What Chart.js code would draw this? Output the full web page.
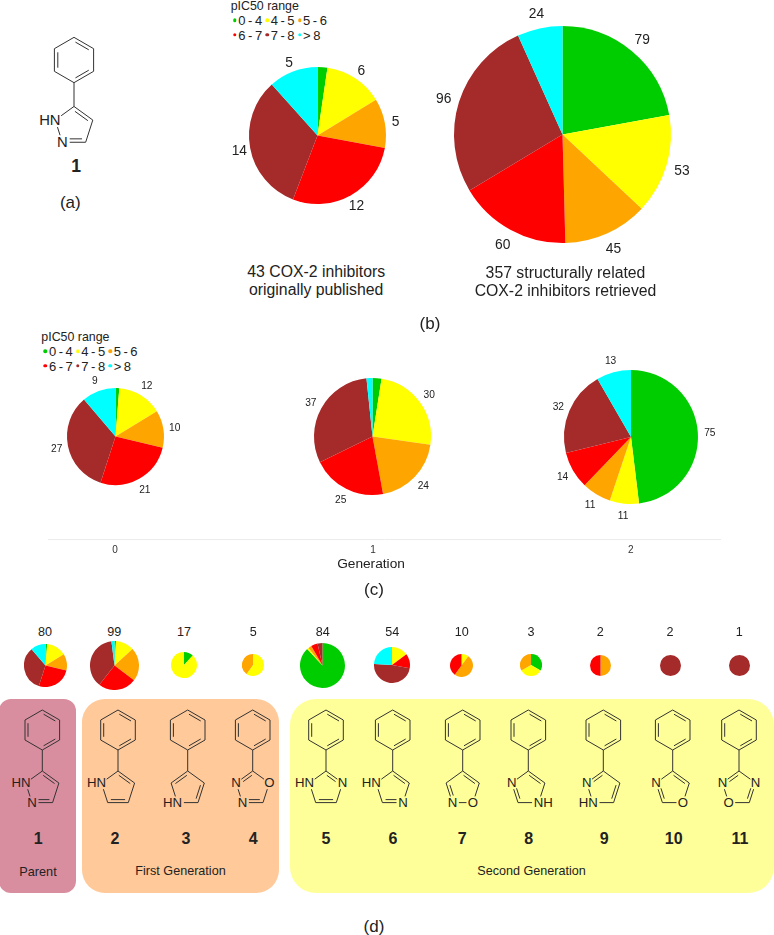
<!DOCTYPE html>
<html lang="en">
    <head>
        <meta charset="UTF-8" />
        <title>COX-2 inhibitors by pIC50 range</title>
        <script src="https://cdn.jsdelivr.net/npm/chart.js@4"></script>
        <style>
            html, body { margin: 0; padding: 0; background: #fff; }
            #page { position: relative; width: 774px; height: 935px; overflow: hidden;
                    font-family: "Liberation Sans", Arial, sans-serif; color: #222; }
            #page canvas { position: absolute; }
            #page svg { position: absolute; left: 0; top: 0; }
            .box { position: absolute; }
            .txt { position: absolute; white-space: nowrap; transform: translate(-50%, -50%); line-height: 1; }
            .dot { position: absolute; width: 3.5px; height: 3.5px; border-radius: 50%; transform: translate(-50%, -50%); }
        </style>
    </head>
    <body>
        <div id="page"></div>
        <script>
            // pIC50 bins, same order on every pie
            const categories = ["0 - 4", "4 - 5", "5 - 6", "6 - 7", "7 - 8", "> 8"];
            const colours = ["#00CD00", "#FFFF00", "#FFA500", "#FF0000", "#A52A2A", "#00FFFF"];

            // panel (b)
            const published = [1, 6, 5, 12, 14, 5];
            const retrieved = [79, 53, 45, 60, 96, 24];

            // panel (c)
            const generationTicks = [0, 1, 2];
            const generation0 = [1, 12, 10, 21, 27, 9];
            const generation1 = [3, 30, 24, 25, 37, 2];
            const generation2 = [75, 11, 11, 14, 32, 13];

            // panel (d), one per scaffold
            const scaffold1 = [1, 12, 10, 21, 27, 9];
            const scaffold2 = [1, 12, 22, 25, 37, 2];
            const scaffold3 = [2, 15, 0, 0, 0, 0];
            const scaffold4 = [0, 3, 2, 0, 0, 0];
            const scaffold5 = [74, 1, 2, 4, 3, 0];
            const scaffold6 = [0, 8, 0, 7, 26, 13];
            const scaffold7 = [0, 1, 5, 4, 0, 0];
            const scaffold8 = [1, 1, 1, 0, 0, 0];
            const scaffold9 = [0, 0, 1, 1, 0, 0];
            const scaffold10 = [0, 0, 0, 0, 2, 0];
            const scaffold11 = [0, 0, 0, 0, 1, 0];
            const scaffoldTotals = ["80", "99", "17", "5", "84", "54", "10", "3", "2", "2", "1"];

            const page = document.getElementById("page");

            function addText(str, x, y, size, extra)  {
                const el = document.createElement("div");
                el.className = "txt";
                el.textContent = str;
                el.style.left = x + "px";
                el.style.top = y + "px";
                el.style.fontSize = size + "px";
                Object.assign(el.style, extra || {});
                page.appendChild(el);
                return el;
            }

            function addBox(x, y, w, h, rad, color)  {
                const el = document.createElement("div");
                el.className = "box";
                el.style.cssText = `left:${x}px;top:${y}px;width:${w}px;height:${h}px;border-radius:${rad}px;background:${color}`;
                page.appendChild(el);
            }

            // value labels sit just outside the arc at its mid angle
            const sliceLabels = {
                id: "sliceLabels",
                afterDatasetsDraw(chart, args, opts)  {
                    if(!opts.size) return;
                    const ctx = chart.ctx;
                    const values = chart.data.datasets[0].data;
                    ctx.save();
                    ctx.font = opts.size + 'px "Liberation Sans"';
                    ctx.fillStyle = "#222";
                    ctx.textAlign = "center";
                    ctx.textBaseline = "middle";
                    chart.getDatasetMeta(0).data.forEach((arc, i) =>  {
                        if(values[i] < opts.min) return;
                        const mid = (arc.startAngle + arc.endAngle) / 2;
                        const dist = arc.outerRadius + opts.gap;
                        ctx.fillText(values[i], arc.x + Math.cos(mid) * dist, arc.y + Math.sin(mid) * dist + opts.dy);
                    });
                    ctx.restore();
                }
            };

            function drawPie(values, cx, cy, r, labels)  {
                const pad = labels ? 30 : 0;
                const size = Math.round(2 * r) + 2 * pad;
                const canvas = document.createElement("canvas");
                canvas.style.left = Math.round(cx - size / 2) + "px";
                canvas.style.top = Math.round(cy - size / 2) + "px";
                canvas.width = size;
                canvas.height = size;
                page.appendChild(canvas);
                new Chart(canvas, {
                    type: "pie",
                    data: {
                        labels: categories,
                        datasets: [{ data: values, backgroundColor: colours, borderWidth: 0 }]
                    },
                    plugins: [sliceLabels],
                    options: {
                        responsive: false,
                        animation: false,
                        layout: { padding: pad },
                        plugins: {
                            legend: { display: false },
                            tooltip: { enabled: false },
                            sliceLabels: labels || {}
                        }
                    }
                });
            }

            function drawLegend(x, y)  {
                addText("pIC50 range", x, y, 12.4, { transform: "translate(0,-50%)" });
                const xs = [4, 36.4, 68.8];
                categories.forEach((name, i) =>  {
                    const col = i % 3;
                    const row = y + (i < 3 ? 14.5 : 29);
                    const dot = document.createElement("div");
                    dot.className = "dot";
                    dot.style.left = (x + xs[col]) + "px";
                    dot.style.top = row + "px";
                    dot.style.background = colours[i];
                    page.appendChild(dot);
                    addText(name, x + xs[col] + 3.6, row, 13, { transform: "translate(0,-50%)", wordSpacing: "-1.1px" });
                });
            }

            // backgrounds first so the molecules and pies land on top
            addBox(-1, 698.7, 77.3, 194, 12, "#D98E9F");
            addBox(82, 698.7, 197.3, 194, 23, "#FFC999");
            addBox(289.7, 698.7, 484.6, 194, 26, "#FFFF99");

            // molecules, local coordinates: origin is the phenyl centre
            const svgNS = "http://www.w3.org/2000/svg";
            const svg = document.createElementNS(svgNS, "svg");
            svg.setAttribute("width", 774);
            svg.setAttribute("height", 935);
            page.appendChild(svg);

            const hexPts = [[0, -20], [17.3, -10], [17.3, 10], [0, 20], [-17.3, 10], [-17.3, -10]];
            const hexDoubles = [[0, 1], [2, 3], [4, 5]];
            const ringPts = [[0, 41], [16.6, 53], [10.3, 72.6], [-10.3, 72.6], [-16.6, 53]];

            // ring atoms by vertex index, then which ring bonds are double
            const molecules = [
                { x: 42.3, atoms: { 4: "HN", 3: "N" }, doubles: [[0, 1], [2, 3]] },
                { x: 118, atoms: { 4: "HN" }, doubles: [[0, 1], [2, 3]] },
                { x: 187.7, atoms: { 3: "HN" }, doubles: [[0, 4], [1, 2]] },
                { x: 252.7, atoms: { 1: "O", 3: "N", 4: "N" }, doubles: [[0, 4], [2, 3]] },
                { x: 326, atoms: { 1: "N", 4: "HN" }, doubles: [[0, 1], [2, 3]] },
                { x: 392.7, atoms: { 2: "N", 4: "HN" }, doubles: [[0, 1], [2, 3]] },
                { x: 462.7, atoms: { 2: "O", 3: "N" }, doubles: [[0, 1], [3, 4]] },
                { x: 528.3, atoms: { 2: "NH", 4: "N" }, doubles: [[0, 1], [3, 4]] },
                { x: 603.3, atoms: { 3: "HN", 4: "N" }, doubles: [[0, 4], [1, 2]] },
                { x: 672.7, atoms: { 2: "O", 4: "N" }, doubles: [[0, 1], [3, 4]] },
                { x: 739, atoms: { 1: "N", 3: "O", 4: "N" }, doubles: [[0, 4], [1, 2]] }
            ];

            function line(x1, y1, x2, y2, w)  {
                const el = document.createElementNS(svgNS, "line");
                el.setAttribute("x1", x1);
                el.setAttribute("y1", y1);
                el.setAttribute("x2", x2);
                el.setAttribute("y2", y2);
                el.setAttribute("stroke", "#333");
                el.setAttribute("stroke-width", w);
                svg.appendChild(el);
            }

            function drawRing(pts, doubles, atoms, ox, oy, k, w)  {
                const mx = pts.reduce((s, p) => s + p[0], 0) / pts.length;
                const my = pts.reduce((s, p) => s + p[1], 0) / pts.length;
                pts.forEach((p, i) =>  {
                    const j = (i + 1) % pts.length;
                    const q = pts[j];
                    const len = Math.hypot(q[0] - p[0], q[1] - p[1]);
                    const ux = (q[0] - p[0]) / len, uy = (q[1] - p[1]) / len;
                    const a = atoms[i] ? 6.5 : 0, b = atoms[j] ? 6.5 : 0;
                    line(ox + k * (p[0] + ux * a), oy + k * (p[1] + uy * a),
                         ox + k * (q[0] - ux * b), oy + k * (q[1] - uy * b), w);
                    const isDouble = doubles.some(d => (d[0] === i && d[1] === j) || (d[0] === j && d[1] === i));
                    if(isDouble)  {
                        let nx = -uy, ny = ux;
                        if(nx * (mx - p[0]) + ny * (my - p[1]) < 0)  { nx = -nx; ny = -ny; }
                        const a2 = Math.max(a, 3.2), b2 = Math.max(b, 3.2);
                        line(ox + k * (p[0] + ux * a2 + nx * 3), oy + k * (p[1] + uy * a2 + ny * 3),
                             ox + k * (q[0] - ux * b2 + nx * 3), oy + k * (q[1] - uy * b2 + ny * 3), w);
                    }
                });
            }

            function drawMolecule(mol, oy, k, fontSize)  {
                const w = 1;
                drawRing(hexPts, hexDoubles, {}, mol.x, oy, k, w);
                line(mol.x, oy + 20 * k, mol.x, oy + 41 * k, w);
                drawRing(ringPts, mol.doubles, mol.atoms, mol.x, oy, k, w);
                Object.keys(mol.atoms).forEach(i =>  {
                    const label = mol.atoms[i];
                    const px = mol.x + ringPts[i][0] * k;
                    const py = oy + ringPts[i][1] * k;
                    const half = fontSize * 0.361;
                    if(label === "HN")
                        addText(label, px + half, py, fontSize, { transform: "translate(-100%,-50%)" });
                    else if(label === "NH")
                        addText(label, px - half, py, fontSize, { transform: "translate(0,-50%)" });
                    else
                        addText(label, px, py, fontSize);
                });
            }

            molecules.forEach(mol => drawMolecule(mol, 730, 1, 13.2));
            drawMolecule({ x: 74, atoms: molecules[0].atoms, doubles: molecules[0].doubles }, 60, 1.133, 14.8);

            // panel (a) and (b) text
            addText("1", 76, 167, 17.5, { fontWeight: "bold" });
            addText("(a)", 70.3, 201.5, 17);
            drawLegend(230.7, 5.5);
            drawPie(published, 317.5, 135.5, 68.7, { size: 13.8, gap: 11, min: 4, dy: 1.5 });
            drawPie(retrieved, 562.7, 134, 108.3, { size: 13.8, gap: 16, min: 4, dy: 1.5 });
            addText("43 COX-2 inhibitors", 316.2, 271.7, 15.8);
            addText("originally published", 316.2, 290.2, 15.8);
            addText("357 structurally related", 565.5, 272.7, 15.8);
            addText("COX-2 inhibitors retrieved", 565.5, 291.2, 15.8);
            addText("(b)", 430, 322.5, 17);

            // panel (c)
            drawLegend(41.3, 336.7);
            drawPie(generation0, 115, 436.7, 48.7, { size: 10.2, gap: 11.5, min: 4, dy: 1 });
            drawPie(generation1, 372.7, 436.7, 58.7, { size: 10.2, gap: 12, min: 4, dy: 1 });
            drawPie(generation2, 630.7, 436.7, 67, { size: 10.2, gap: 12, min: 4, dy: 1 });

            // only the x axis of this one shows, so it can overlap the pies above
            const axisCanvas = document.createElement("canvas");
            axisCanvas.style.left = "0px";
            axisCanvas.style.top = "491px";
            axisCanvas.width = 774;
            axisCanvas.height = 70;
            page.appendChild(axisCanvas);
            new Chart(axisCanvas, {
                type: "scatter",
                data: { datasets: [{ data: [] }] },
                options: {
                    responsive: false,
                    animation: false,
                    layout: { padding: { left: 48, right: 54 } },
                    plugins: { legend: { display: false }, tooltip: { enabled: false } },
                    scales: {
                        y: { display: false },
                        x: {
                            type: "linear",
                            min: -0.26,
                            max: 2.346,
                            afterBuildTicks: axis =>  { axis.ticks = generationTicks.map(v => ({ value: v })); },
                            border: { color: "#ececec" },
                            grid: { display: false, drawTicks: false },
                            ticks: { color: "#333", maxRotation: 0, padding: 5, font: { family: "Liberation Sans", size: 10 } }
                        }
                    }
                }
            });
            addText("Generation", 371, 564, 13.7);
            addText("(c)", 374, 589, 17);

            // panel (d)
            const scaffoldPies = [
                [scaffold1, 45, 21.7], [scaffold2, 114.3, 24.5], [scaffold3, 184, 13], [scaffold4, 253.3, 11.2],
                [scaffold5, 322.7, 22.3], [scaffold6, 392.2, 18], [scaffold7, 461.7, 11.7], [scaffold8, 531, 11.2],
                [scaffold9, 600.3, 10.5], [scaffold10, 670, 10.5], [scaffold11, 739.3, 10.5]
            ];
            scaffoldPies.forEach((p, i) =>  {
                drawPie(p[0], p[1], 665, p[2]);
                addText(scaffoldTotals[i], p[1], 631.5, 12.6);
            });

            const compoundX = [38.3, 115, 186, 253.3, 326, 393, 462.3, 528.7, 604.3, 673.7, 740];
            compoundX.forEach((x, i) => addText(String(i + 1), x, 838.5, 16, { fontWeight: "bold" }));
            addText("Parent", 38, 871.7, 12.7);
            addText("First Generation", 180.5, 870.7, 12.6);
            addText("Second Generation", 531.5, 870.7, 12.6);
            addText("(d)", 374, 926, 17);
        </script>
    </body>
</html>
